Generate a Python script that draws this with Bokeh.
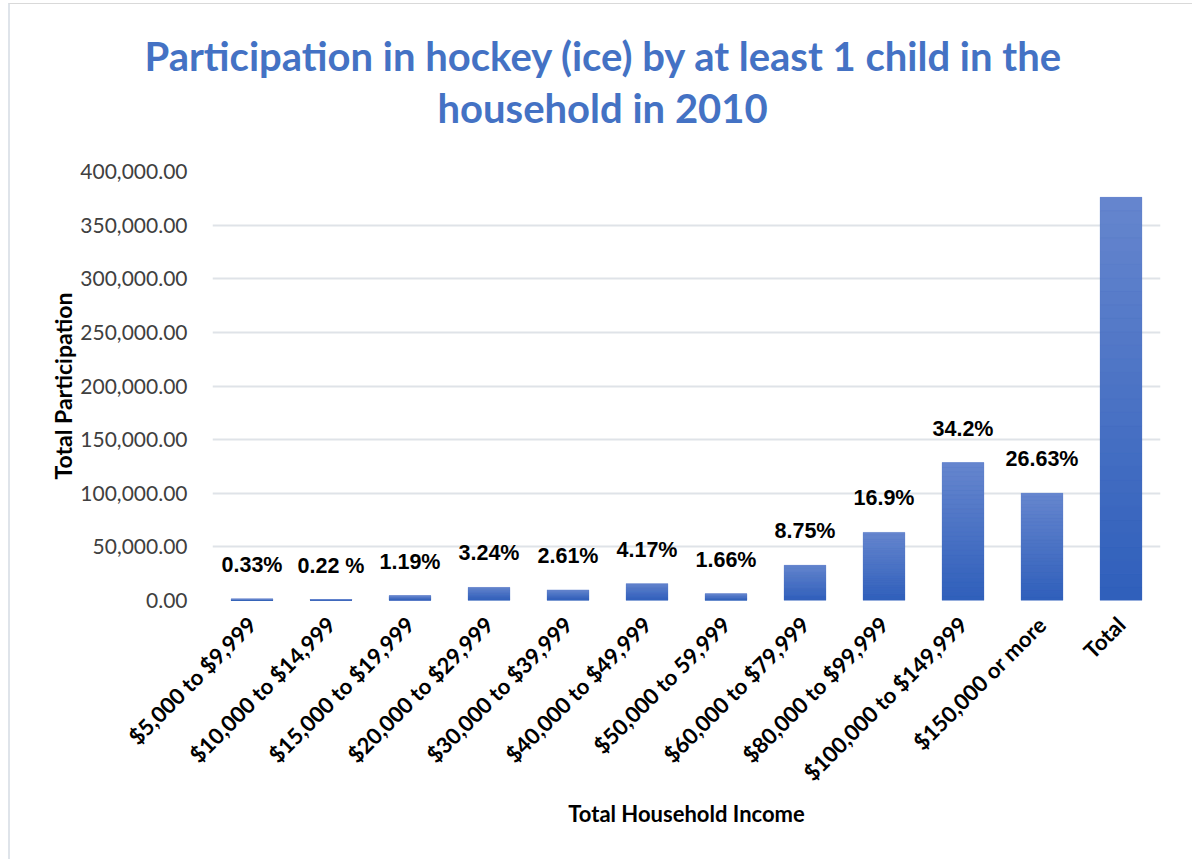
import math
from bokeh.plotting import figure
from bokeh.models import (ColumnDataSource, FixedTicker, NumeralTickFormatter, Title, FactorRange)
from bokeh.embed import file_html
from bokeh.resources import INLINE
from bokeh.core.properties import value

# ---- data ----
categories = ["$5,000 to $9,999", "$10,000 to $14,999", "$15,000 to $19,999",
              "$20,000 to $29,999", "$30,000 to $39,999", "$40,000 to $49,999",
              "$50,000 to 59,999", "$60,000 to $79,999", "$80,000 to $99,999",
              "$100,000 to $149,999", "$150,000 or more", "Total"]
participation = [1240, 830, 4470, 12180, 9810, 15680, 6240, 32900, 63500, 128600, 100100, 376000]
pct_labels = ["0.33%", "0.22 %", "1.19%", "3.24%", "2.61%", "4.17%", "1.66%",
              "8.75%", "16.9%", "34.2%", "26.63%", "100%"]
y_ticks = [0, 50000, 100000, 150000, 200000, 250000, 300000, 350000, 400000]
title_lines = ["Participation in hockey (ice) by at least 1 child in the", "household in 2010"]

# ---- gradient colours (top light -> bottom dark) ----
top_rgb = (0x66, 0x86, 0xCE)
bot_rgb = (0x2F, 0x5F, 0xBB)
N = 30

def mix(t):
    r = [round(bot_rgb[i] + (top_rgb[i] - bot_rgb[i]) * t) for i in range(3)]
    return "#%02x%02x%02x" % tuple(r)

sx, sb, st, sc = [], [], [], []
for c, v in zip(categories, participation):
    for k in range(N):
        sx.append(c)
        sb.append(v * k / N)
        st.append(v * (k + 1) / N)
        sc.append(mix((k + 0.5) / N))

p = figure(width=1184, height=856, x_range=FactorRange(*categories), y_range=(0, 400000),
           output_backend="svg", toolbar_location=None,
           min_border_left=202, min_border_right=34, min_border_top=167, min_border_bottom=260)
p.styles = {"margin-left": "8px", "margin-top": "3px",
            "border-left": "2px solid #dfe4ea", "border-top": "1px solid #d9d9d9"}

p.outline_line_color = None
p.background_fill_color = "white"
p.border_fill_color = "white"

base = ColumnDataSource(dict(x=categories, top=participation, lab=pct_labels))
p.vbar(x="x", top="top", bottom=0, width=0.53, source=base, fill_color=mix(0.5), line_color=None)
p.vbar(x=sx, bottom=sb, top=st, width=0.53, fill_color=sc, line_color=sc, line_width=0.3)

p.text(x="x", y="top", text="lab", source=base, y_offset=-34,
       text_align="center", text_baseline="middle",
       text_font=value("Liberation Sans"), text_font_style="bold",
       text_font_size="21.5px", text_color="black")

# axes
p.yaxis.ticker = FixedTicker(ticks=y_ticks)
p.yaxis.formatter = NumeralTickFormatter(format="0,0.00")
for ax in (p.xaxis[0], p.yaxis[0]):
    ax.axis_line_color = None
    ax.major_tick_line_color = None
    ax.minor_tick_line_color = None
    ax.major_label_text_font = "Lato"
    ax.axis_label_text_font = "Lato"
    ax.axis_label_text_font_style = "bold"
    ax.axis_label_text_color = "black"
    ax.axis_label_text_font_size = "22px"

p.yaxis.major_label_text_font_size = "21px"
p.yaxis.major_label_text_color = "#404040"
p.yaxis.major_label_standoff = 19
p.yaxis.axis_label = "Total Participation"
p.yaxis.axis_label_text_font_size = "23px"
p.yaxis.axis_label_standoff = 0

p.xaxis.major_label_orientation = math.pi / 4
p.xaxis.major_label_text_font_size = "22px"
p.xaxis.major_label_text_font_style = "bold"
p.xaxis.major_label_text_color = "black"
p.xaxis.major_label_standoff = 14
p.xaxis.axis_label = "Total Household Income"
p.xaxis.axis_label_standoff = 2

p.xgrid.grid_line_color = None
p.ygrid.grid_line_color = "#dfe3e8"
p.ygrid.grid_line_width = 2

# two title lines stacked above the frame (first added = closest to the frame)
t2 = Title(text=title_lines[1], align="left", offset=225, standoff=79,
           text_font="Lato", text_font_style="bold", text_font_size="40px", text_color="#4472C4")
t1 = Title(text=title_lines[0], align="left", offset=-68, standoff=-75,
           text_font="Lato", text_font_style="bold", text_font_size="40px", text_color="#4472C4")
p.title = None
p.add_layout(t2, "above")
p.add_layout(t1, "above")

open("out.html", "w").write(file_html(p, INLINE))
